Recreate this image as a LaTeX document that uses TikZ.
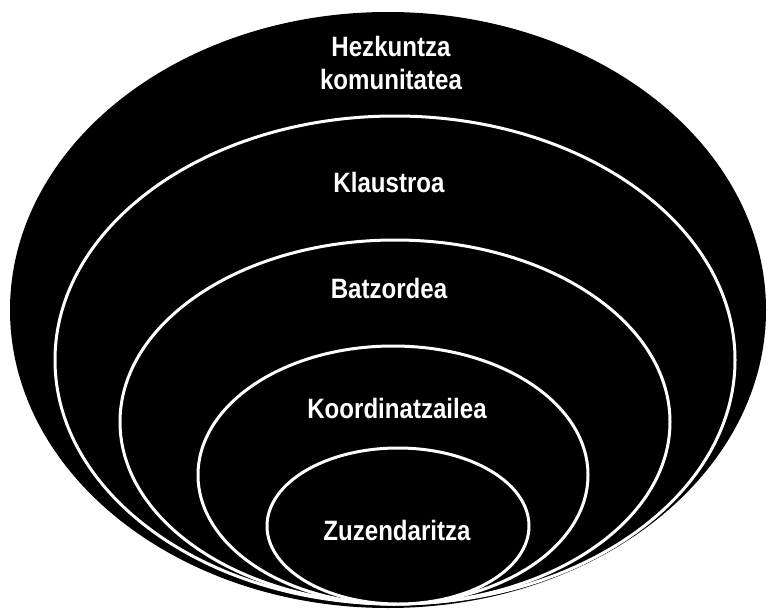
\documentclass[tikz,border=0pt]{standalone}
\usepackage{fontspec}
\newfontfamily\lblfont[FakeStretch=0.86]{Liberation Sans}
\usetikzlibrary{shapes.geometric}
\begin{document}
\begin{tikzpicture}[x=1pt,y=-1pt,
  ring/.style={ellipse, fill=black, draw=white, line width=3pt, inner sep=0pt, outer sep=0pt},
  lbl/.style={text=white, font=\lblfont\bfseries\fontsize{28}{33}\selectfont, align=center, inner sep=0pt}]
\path[use as bounding box, fill=white] (0,0) rectangle (769,610);
\node[ellipse, fill=black, inner sep=0pt, minimum width=756pt, minimum height=596pt] (e1) at (388,310) {};
\node[ring, minimum width=680pt, minimum height=488pt] (e2) at (395,360) {};
\node[ring, minimum width=550pt, minimum height=364pt] (e3) at (395,422) {};
\node[ring, minimum width=390pt, minimum height=258pt] (e4) at (393,475) {};
\node[ring, minimum width=262pt, minimum height=156pt] (e5) at (398,526) {};
\node[lbl] (t1) at (391,63) {Hezkuntza\\komunitatea};
\node[lbl] (t2) at (389,182) {Klaustroa};
\node[lbl] (t3) at (389,288) {Batzordea};
\node[lbl] (t4) at (397,408) {Koordinatzailea};
\node[lbl] (t5) at (397,530) {Zuzendaritza};
\end{tikzpicture}
\end{document}
